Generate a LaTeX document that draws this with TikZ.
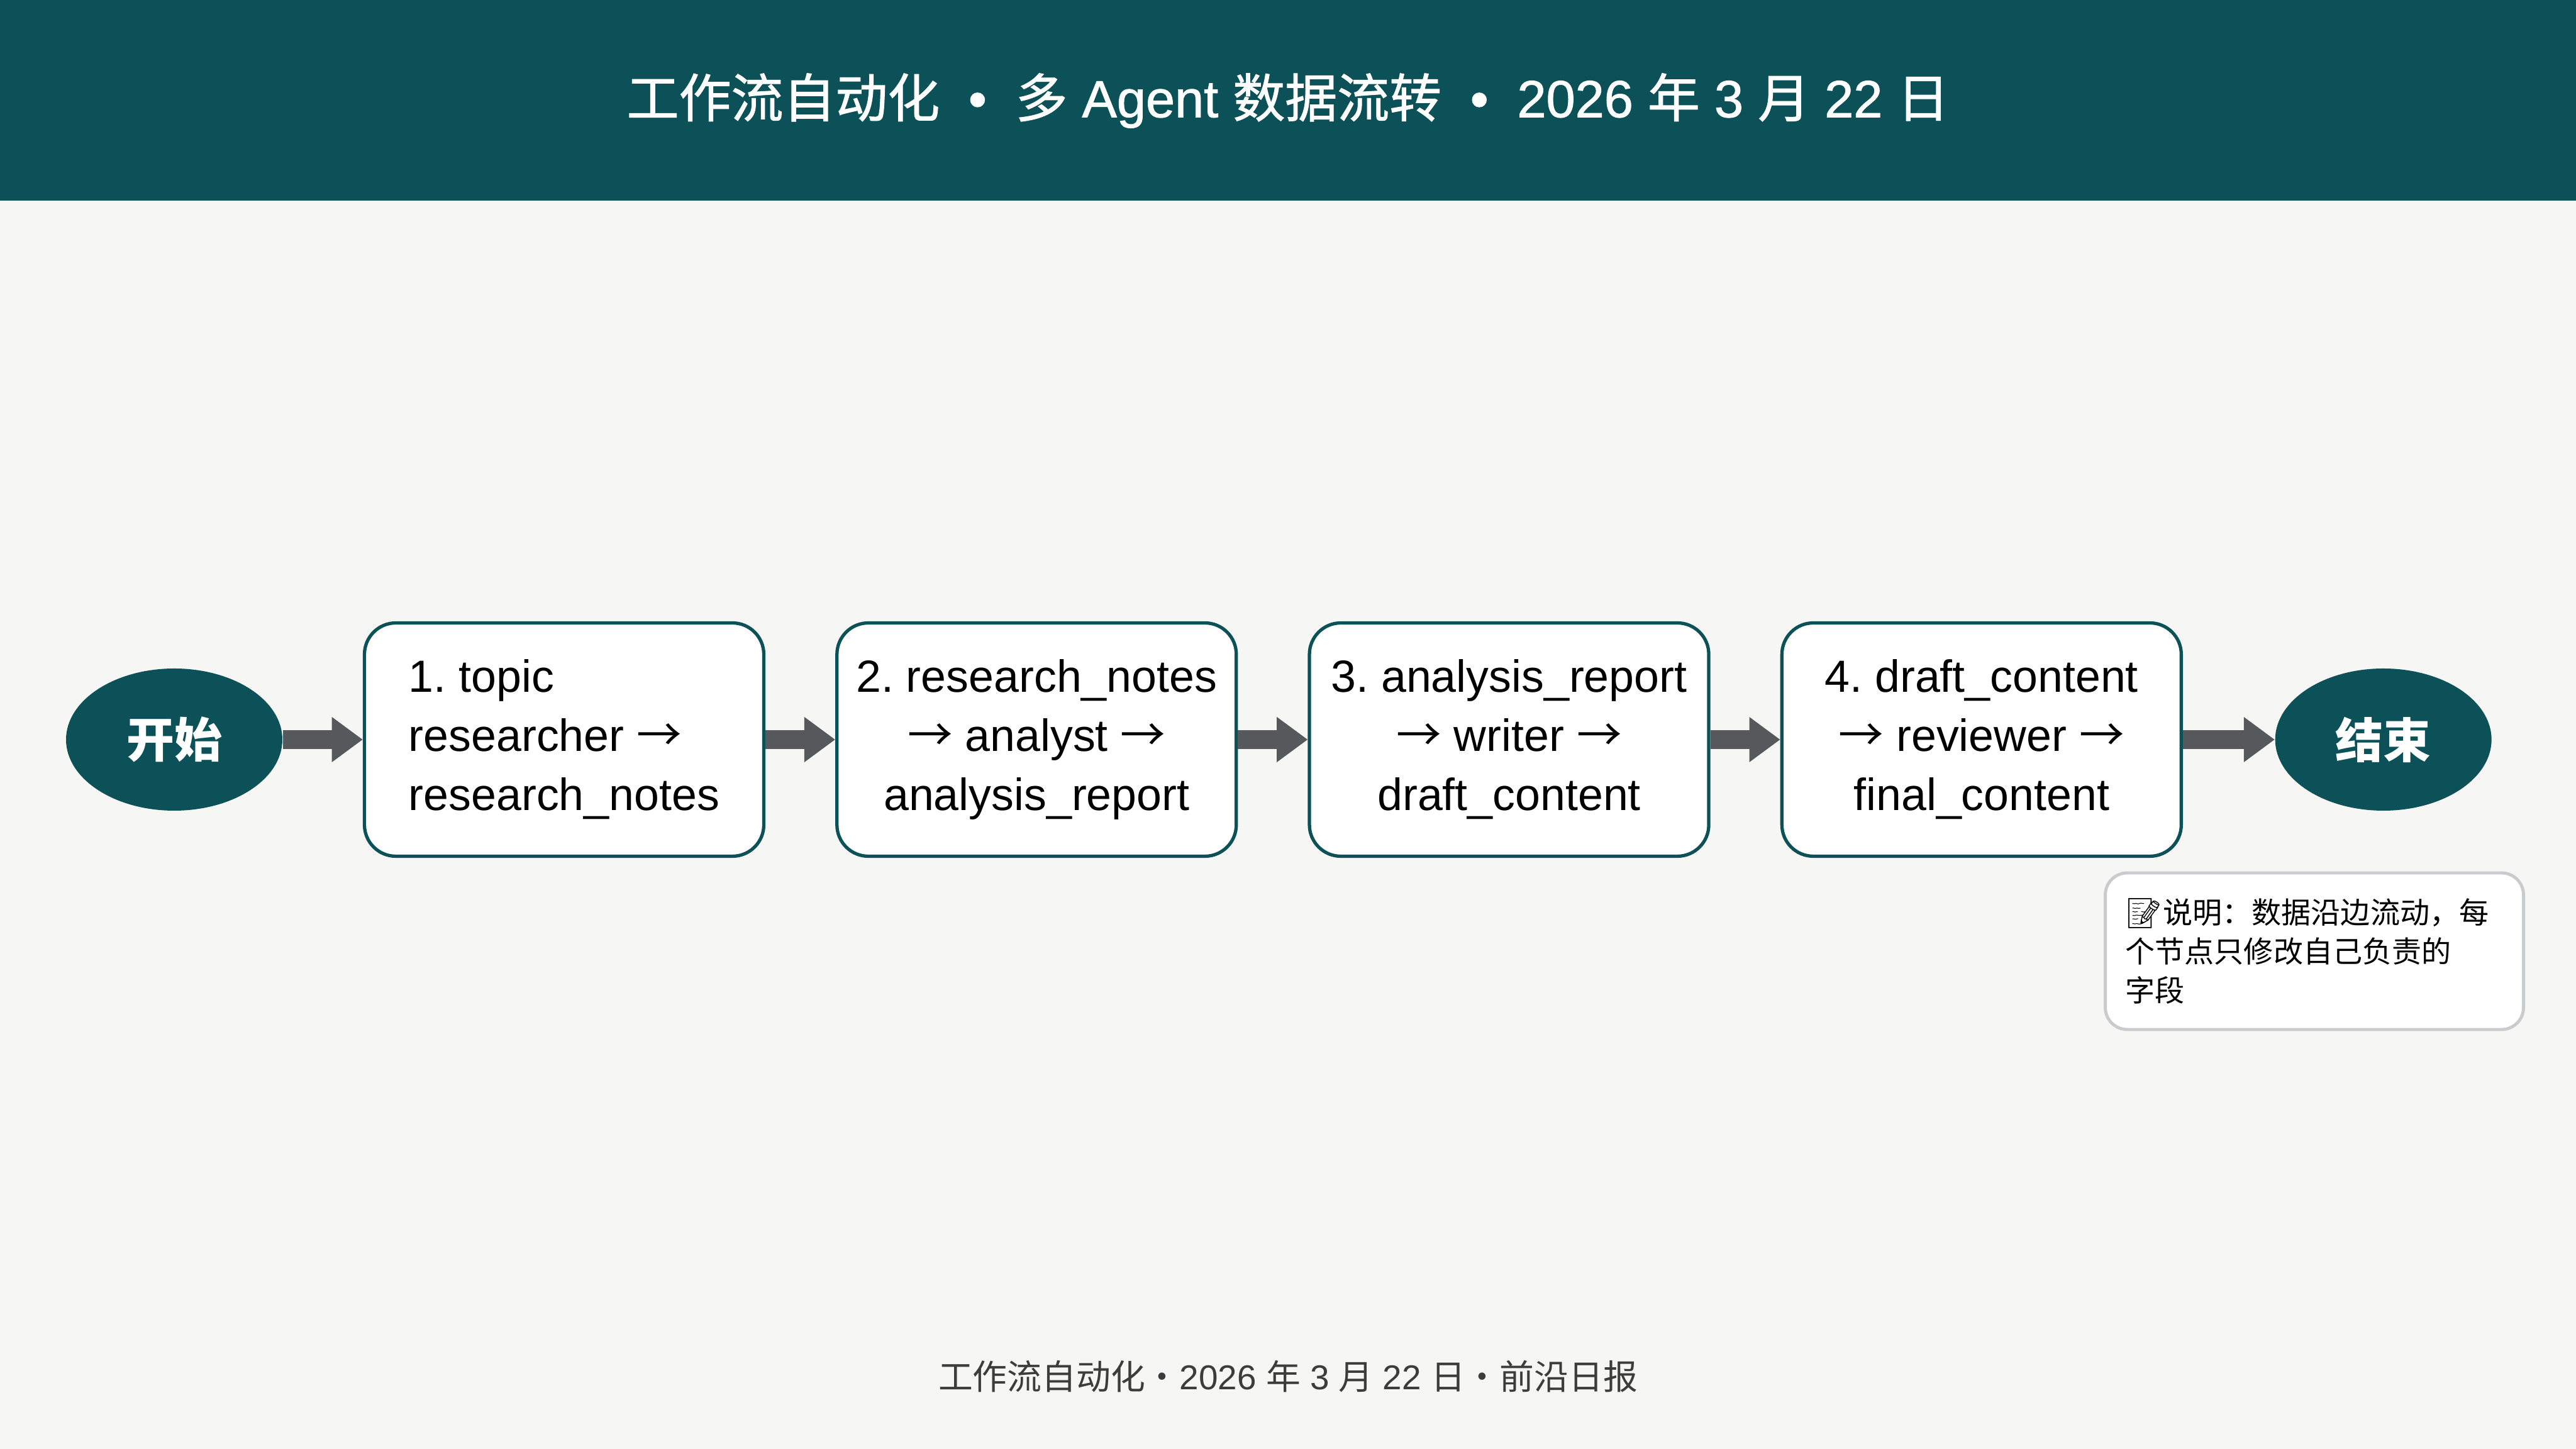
\documentclass[tikz,border=0pt]{standalone}
\usepackage{fontspec}
\setmainfont{Liberation Sans}
\newfontfamily\cjk{Noto Sans CJK SC}
\newfontfamily\cjkmed[FakeBold=1.2]{Noto Sans CJK SC}
\newfontfamily\latmed[FakeBold=1.2]{Liberation Sans}
\newfontfamily\emoji{Noto Emoji}
\usetikzlibrary{calc,arrows.meta,positioning,shapes.geometric}
\definecolor{headteal}{HTML}{0C5157}
\definecolor{flowgray}{HTML}{55595C}
\definecolor{paper}{HTML}{F6F6F4}
\definecolor{notegray}{HTML}{C9CBCD}
\definecolor{footgray}{HTML}{3C3C3C}
\newcommand\ar{{\cjk →}}
\newcommand\sep{\hskip0.55em•\hskip0.55em}
\frenchspacing

\begin{document}
\begin{tikzpicture}[
  term/.style={ellipse,fill=headteal,minimum width=3.44cm,minimum height=2.26cm,
    inner sep=0pt,text=white,font=\cjk\bfseries\fontsize{21.6}{26}\selectfont},
  stage/.style={draw=headteal,line width=1.5pt,fill=white,rounded corners=0.5cm,
    minimum width=6.35cm,minimum height=3.71cm,inner sep=0pt,
    font=\fontsize{20.4}{26.7}\selectfont},
  flow/.style={draw=flowgray,line width=8.5pt,-{Triangle[length=14pt,width=19.5pt]}},
  note/.style={draw=notegray,line width=1.4pt,fill=white,rounded corners=0.35cm,
    minimum width=6.65cm,minimum height=2.49cm,inner xsep=0.32cm,text width=6.01cm,
    align=left,font=\cjk\fontsize{13.4}{17.6}\selectfont}]
  \fill[paper](0,0)rectangle(40.96,23.04);
  \useasboundingbox(0,0)rectangle(40.96,23.04);
  \fill[headteal](0,19.85)rectangle(40.96,23.04);
  \node(title) at (20.48,21.44) [text=white,font=\latmed\fontsize{23.6}{28}\selectfont]
    {{\cjkmed 工作流自动化}\sep{\cjkmed 多} Agent {\cjkmed 数据流转}\sep 2026 {\cjkmed 年} 3 {\cjkmed 月} 22 {\cjkmed 日}};
  \node[term](start) at (2.77,11.28){开始};
  \node[stage,align=left](s1) at (8.97,11.28){1. topic\\researcher \ar\\research\_notes};
  \node[stage,align=center,right=1.11cm of s1](s2){2. research\_notes\\\ar{} analyst \ar\\analysis\_report};
  \node[stage,align=center,right=1.11cm of s2](s3){3. analysis\_report\\\ar{} writer \ar\\draft\_content};
  \node[stage,align=center,right=1.11cm of s3](s4){4. draft\_content\\\ar{} reviewer \ar\\final\_content};
  \node[term,right=1.46cm of s4](stop){结束};
  \draw[flow](start)--(s1);
  \draw[flow](s1)--(s2);
  \draw[flow](s2)--(s3);
  \draw[flow](s3)--(s4);
  \draw[flow](s4)--(stop);
  \node[note](memo) at (36.8,7.915){{\emoji 📝}说明：数据沿边流动，每\\个节点只修改自己负责的\\字段};
  \node(foot) at (20.48,1.15) [text=footgray,font=\fontsize{15.6}{18}\selectfont]
    {{\cjk 工作流自动化・}2026 {\cjk 年} 3 {\cjk 月} 22 {\cjk 日・前沿日报}};
\end{tikzpicture}
\end{document}
